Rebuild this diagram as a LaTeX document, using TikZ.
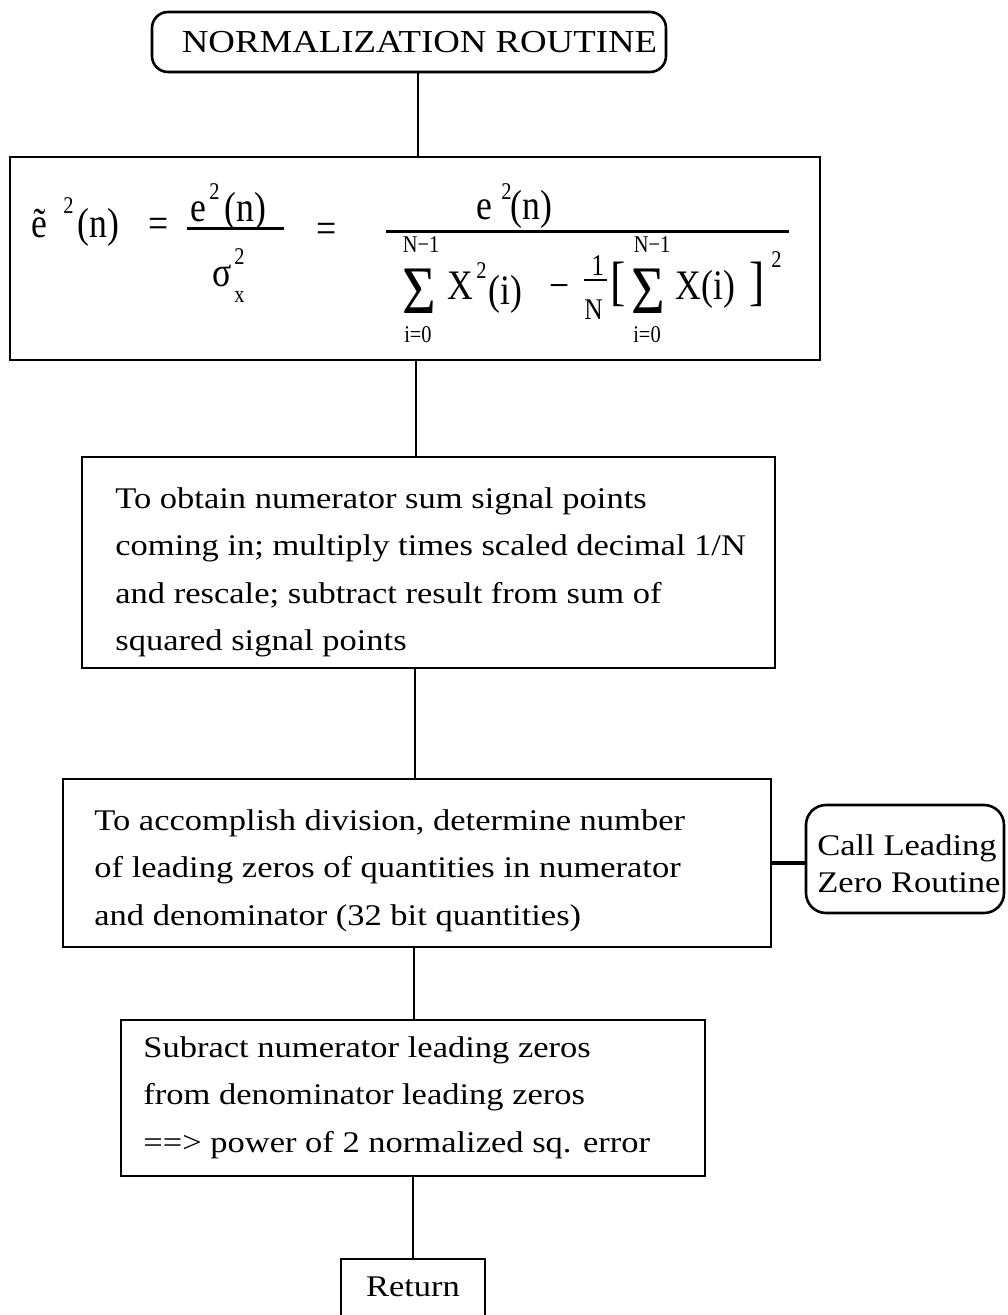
\documentclass[tikz,border=0pt]{standalone}
\usepackage{fontspec}
\setmainfont[FakeStretch=1.15]{Liberation Serif}
\newfontfamily\ffont[FakeStretch=0.85]{Liberation Serif}
\begin{document}
\begin{tikzpicture}[x=0.5pt,y=-0.5pt,
  box/.style={draw, line width=1.3pt, inner sep=0pt},
  rbox/.style={box, rounded corners=8pt},
  conn/.style={line width=1pt},
  bar/.style={line width=1.5pt},
  txt/.style={anchor=north west, inner sep=0pt, align=left, font=\fontsize{15pt}{23.6pt}\selectfont},
  fp/.style={anchor=base west, inner sep=0pt, font=\ffont\fontsize{21pt}{21pt}\selectfont},
  fs/.style={anchor=base west, inner sep=0pt, font=\ffont\fontsize{12pt}{12pt}\selectfont},
  fl/.style={anchor=base, inner sep=0pt, font=\ffont\fontsize{12pt}{12pt}\selectfont},
  fo/.style={anchor=base west, inner sep=0pt, font=\ffont\fontsize{15pt}{15pt}\selectfont},
  fk/.style={anchor=base west, inner sep=0pt, font=\ffont\fontsize{27pt}{27pt}\selectfont},
  fb/.style={anchor=base west, inner sep=0pt, text height=22pt, text depth=0pt, font=\ffont\fontsize{34pt}{34pt}\selectfont}]
\fill[white] (0,0) rectangle (1007,1315);
\useasboundingbox (0,0) rectangle (1007,1315);
\clip (0,0) rectangle (1007,1315);

% boxes
\node[rbox, minimum width=257pt, minimum height=30pt, font=\fontsize{16pt}{16pt}\selectfont] (title) at (409,42) {\hspace*{10.5pt}NORMALIZATION ROUTINE};
\node[box, minimum width=405pt, minimum height=101.5pt] (fbox) at (415,258.5) {};
\node[box, minimum width=346.5pt, minimum height=105.5pt] (b2) at (428.5,562.5) {};
\node[box, minimum width=354pt, minimum height=84pt] (b3) at (417,863) {};
\node[rbox, rounded corners=10pt, minimum width=99pt, minimum height=54pt] (call) at (905,859) {};
\node[box, minimum width=292pt, minimum height=78pt] (b4) at (413,1098) {};
\node[box, minimum width=72pt, minimum height=35.5pt, font=\fontsize{15pt}{15pt}\selectfont, text height=10.2pt, text depth=8.7pt] (ret) at (413,1294.5) {Return};

% texts
\node[txt] (t2) at (115,487.5) {To obtain numerator sum signal points\\coming in; multiply times scaled decimal 1/N\\and rescale; subtract result from sum of\\squared signal points};
\node[txt] (t3) at (94,809.5) {To accomplish division, determine number\\of leading zeros of quantities in numerator\\and denominator (32 bit quantities)};
\node[txt] (t4) at (143,1036.5) {Subract numerator leading zeros\\from denominator leading zeros\\==> power of 2 normalized sq. error};
\node[txt, font=\fontsize{15pt}{18.5pt}\selectfont] (tc) at (817,834.5) {Call Leading\\Zero Routine};

% formula
\node[fp] (e1) at (31,238) {\~{e}};
\node[fs] (e1s) at (63,214) {2};
\node[fp] (e1n) at (77,238) {(n)};
\node[fp] (eq1) at (148,238) {=};
\node[fp] (n1e) at (190,222) {e};
\node[fs] (n1s) at (209,200) {2};
\node[fp] (n1n) at (224,222) {(n)};
\draw[bar] (187,229) -- (284,229);
\node[fp] (sg) at (212,287) {σ};
\node[fs] (sgs) at (234,265) {2};
\node[fs] (sgx) at (234,303) {x};
\node[fp] (eq2) at (316,243) {=};
\node[fp] (n2e) at (476,220) {e};
\node[fs] (n2s) at (501,200) {2};
\node[fp] (n2n) at (510,220) {(n)};
\draw[bar] (386,232) -- (789,232);
\node[fb] (s1) at (402,314) {Σ};
\node[fl] (s1t) at (421,253) {N−1};
\node[fl] (s1b) at (418,343) {i=0};
\node[fp] (x1) at (447,300) {X};
\node[fs] (x1s) at (476,279) {2};
\node[fp] (x1i) at (488,305) {(i)};
\node[fp] (mi) at (549,300) {−};
\node[fo] (one) at (591,276) {1};
\draw[line width=0.8pt] (584,280) -- (607,280);
\node[fo] (nn) at (584,320) {N};
\node[fk] (lb) at (610,300) {[};
\node[fb] (s2) at (631,314) {Σ};
\node[fl] (s2t) at (652,253) {N−1};
\node[fl] (s2b) at (647,343) {i=0};
\node[fp] (x2) at (675,300) {X(i)};
\node[fk] (rb) at (749,300) {]};
\node[fs] (rbs) at (771,268) {2};

% connectors
\coordinate (v1) at (418,0);
\coordinate (v2) at (416,0);
\coordinate (v3) at (415,0);
\coordinate (v4) at (414,0);
\coordinate (v5) at (413,0);
\draw[conn] (title.south -| v1) -- (fbox.north -| v1);
\draw[conn] (fbox.south -| v2) -- (b2.north -| v2);
\draw[conn] (b2.south -| v3) -- (b3.north -| v3);
\draw[conn] (b3.south -| v4) -- (b4.north -| v4);
\draw[conn] (b4.south -| v5) -- (ret.north -| v5);
\draw[line width=2pt] (b3.east) -- (b3.east -| call.west);
\end{tikzpicture}
\end{document}
